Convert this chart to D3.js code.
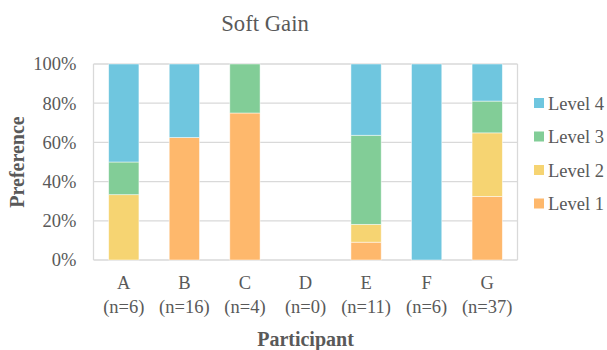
<!DOCTYPE html>
<html>
<head>
<meta charset="utf-8">
<script src="https://cdn.jsdelivr.net/npm/d3@7"></script>
<style>
  html, body { margin: 0; padding: 0; background: #fff; }
</style>
</head>
<body>
<svg id="chart" width="607" height="350" font-family="Liberation Serif"></svg>
<script>
const categories = ["A", "B", "C", "D", "E", "F", "G"];
const nLabels = ["(n=6)", "(n=16)", "(n=4)", "(n=0)", "(n=11)", "(n=6)", "(n=37)"];
const levels = ["Level 1", "Level 2", "Level 3", "Level 4"];
// counts of participants per level for each category
const level1 = [0, 10, 3, 0, 1, 0, 12];
const level2 = [2, 0, 0, 0, 1, 0, 12];
const level3 = [1, 0, 1, 0, 5, 0, 6];
const level4 = [3, 6, 0, 0, 4, 6, 7];
const yTicks = [0, 0.2, 0.4, 0.6, 0.8, 1.0];
const colors = ["#feb86c", "#f6d472", "#82cd97", "#6fc6df"];

const FONT = "Liberation Serif";
const svg = d3.select("#chart");
const plot = { left: 93.5, right: 517.5, top: 64, bottom: 260 };

const series = [level1, level2, level3, level4];
const rows = categories.map((c, i) => {
  const total = series.reduce((s, arr) => s + arr[i], 0);
  const r = { cat: c };
  levels.forEach((l, k) => { r[l] = total ? series[k][i] / total : 0; });
  return r;
});
const stacked = d3.stack().keys(levels)(rows);

const x = d3.scaleBand().domain(categories).range([plot.left, plot.right])
  .paddingInner(0.5).paddingOuter(0.25);
const y = d3.scaleLinear().domain([0, 1]).range([plot.bottom, plot.top]);

// gridlines
svg.append("g").selectAll("line").data(yTicks).join("line")
  .attr("x1", plot.left).attr("x2", plot.right)
  .attr("y1", d => y(d)).attr("y2", d => y(d))
  .attr("stroke", "#d9d9d9").attr("stroke-width", 1.3);
// plot border (left/right)
[plot.left, plot.right].forEach(px => {
  svg.append("line").attr("x1", px).attr("x2", px)
    .attr("y1", plot.top).attr("y2", plot.bottom)
    .attr("stroke", "#d9d9d9").attr("stroke-width", 1.3);
});

// bars
svg.append("g").selectAll("g").data(stacked).join("g")
  .attr("fill", (d, i) => colors[i])
  .selectAll("rect").data(d => d.filter(s => s[1] - s[0] > 0)).join("rect")
  .attr("x", d => x(d.data.cat))
  .attr("width", x.bandwidth())
  .attr("y", d => y(d[1]))
  .attr("height", d => y(d[0]) - y(d[1]))
  .attr("stroke", "rgba(255,255,255,0.6)").attr("stroke-width", 0.8);

// y axis labels
const yAxis = d3.axisLeft(y).tickValues(yTicks).tickFormat(d3.format(".0%")).tickSize(0).tickPadding(17);
const yg = svg.append("g").attr("transform", `translate(${plot.left},0)`).call(yAxis)
  .attr("font-family", FONT).attr("font-size", "18.5px");
yg.select(".domain").remove();
yg.selectAll("text").attr("font-size", "18.5px").attr("fill", "#595959")
  .attr("font-family", FONT);

// x axis labels
const xAxis = d3.axisBottom(x).tickSize(0).tickFormat(() => "");
const xg = svg.append("g").attr("transform", `translate(0,${plot.bottom})`).call(xAxis)
  .attr("font-family", FONT).attr("font-size", "18.5px");
xg.select(".domain").remove();
xg.selectAll(".tick").each(function(d, i) {
  const t = d3.select(this).select("text").text(null)
    .attr("y", 0).attr("dy", null)
    .attr("font-size", "18.5px").attr("fill", "#595959").attr("font-family", FONT);
  t.append("tspan").attr("x", 0).attr("y", 29).text(categories[i]);
  t.append("tspan").attr("x", 0).attr("y", 53).text(nLabels[i]);
});

// title
svg.append("text").attr("x", 265).attr("y", 31).attr("text-anchor", "middle")
  .attr("font-family", FONT).attr("font-size", "22.7px").attr("fill", "#595959").text("Soft Gain");

// axis titles
svg.append("text").attr("x", (plot.left + plot.right) / 2).attr("y", 346)
  .attr("text-anchor", "middle").attr("font-size", "20px").attr("font-weight", "bold")
  .attr("font-family", FONT).attr("fill", "#595959").text("Participant");
svg.append("text").attr("transform", `translate(24,${(plot.top + plot.bottom) / 2}) rotate(-90)`)
  .attr("text-anchor", "middle").attr("font-size", "20px").attr("font-weight", "bold")
  .attr("font-family", FONT).attr("fill", "#595959").text("Preference");

// legend
const legendOrder = [3, 2, 1, 0];
const lg = svg.append("g").selectAll("g").data(legendOrder).join("g")
  .attr("transform", (d, i) => `translate(534,${103 + i * 33.5})`);
lg.append("rect").attr("x", 0).attr("y", -5).attr("width", 10).attr("height", 10)
  .attr("fill", d => colors[d]);
lg.append("text").attr("x", 14).attr("y", 6.5).attr("font-size", "18.5px")
  .attr("font-family", FONT).attr("fill", "#595959").text(d => levels[d]);
</script>
</body>
</html>
